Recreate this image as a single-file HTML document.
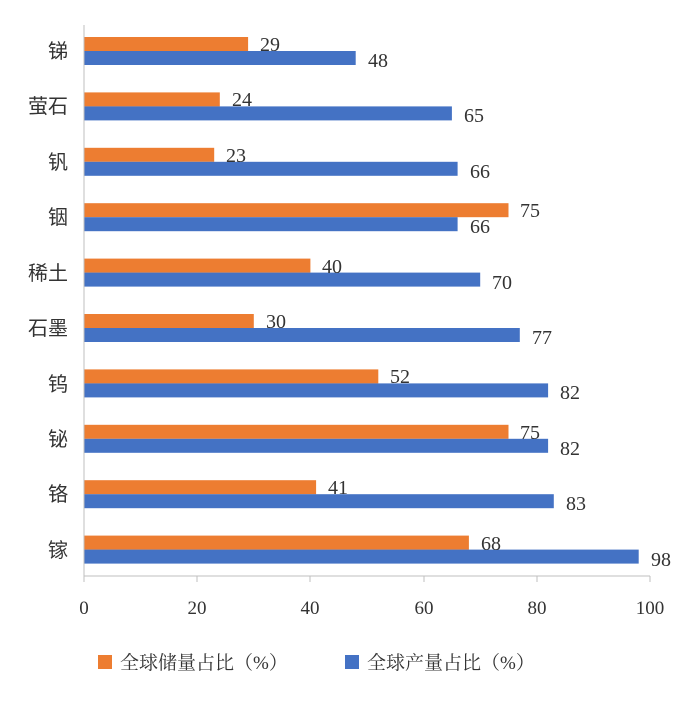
<!DOCTYPE html>
<html><head><meta charset="utf-8"><style>
body{margin:0;background:#fff;}
</style></head><body>
<svg width="679" height="700" xmlns="http://www.w3.org/2000/svg" font-family="'Liberation Serif','Noto Serif CJK SC',serif">
<rect width="679" height="700" fill="#fff"/>
<g>
<rect x="84" y="37" width="164.1" height="14" fill="#ED7D31"/><rect x="84" y="51" width="271.7" height="14" fill="#4472C4"/>
<rect x="84" y="92.4" width="135.8" height="14" fill="#ED7D31"/><rect x="84" y="106.4" width="367.9" height="14" fill="#4472C4"/>
<rect x="84" y="147.8" width="130.2" height="14" fill="#ED7D31"/><rect x="84" y="161.8" width="373.6" height="14" fill="#4472C4"/>
<rect x="84" y="203.2" width="424.5" height="14" fill="#ED7D31"/><rect x="84" y="217.2" width="373.6" height="14" fill="#4472C4"/>
<rect x="84" y="258.6" width="226.4" height="14" fill="#ED7D31"/><rect x="84" y="272.6" width="396.2" height="14" fill="#4472C4"/>
<rect x="84" y="314" width="169.8" height="14" fill="#ED7D31"/><rect x="84" y="328" width="435.8" height="14" fill="#4472C4"/>
<rect x="84" y="369.4" width="294.3" height="14" fill="#ED7D31"/><rect x="84" y="383.4" width="464.1" height="14" fill="#4472C4"/>
<rect x="84" y="424.8" width="424.5" height="14" fill="#ED7D31"/><rect x="84" y="438.8" width="464.1" height="14" fill="#4472C4"/>
<rect x="84" y="480.2" width="232.1" height="14" fill="#ED7D31"/><rect x="84" y="494.2" width="469.8" height="14" fill="#4472C4"/>
<rect x="84" y="535.6" width="384.9" height="14" fill="#ED7D31"/><rect x="84" y="549.6" width="554.7" height="14" fill="#4472C4"/>
</g>
<g font-size="20" fill="#333">
<text x="260" y="51">29</text><text x="368" y="67">48</text>
<text x="232" y="106">24</text><text x="464" y="122">65</text>
<text x="226" y="162">23</text><text x="470" y="178">66</text>
<text x="520" y="217">75</text><text x="470" y="233">66</text>
<text x="322" y="273">40</text><text x="492" y="289">70</text>
<text x="266" y="328">30</text><text x="532" y="344">77</text>
<text x="390" y="383">52</text><text x="560" y="399">82</text>
<text x="520" y="439">75</text><text x="560" y="455">82</text>
<text x="328" y="494">41</text><text x="566" y="510">83</text>
<text x="481" y="550">68</text><text x="651" y="566">98</text>
</g>
<g font-size="20" fill="#333" text-anchor="end" font-family="'Noto Sans CJK SC',sans-serif">
<text x="68" y="58">锑</text>
<text x="68" y="113">萤石</text>
<text x="68" y="169">钒</text>
<text x="68" y="224">铟</text>
<text x="68" y="280">稀土</text>
<text x="68" y="335">石墨</text>
<text x="68" y="391">钨</text>
<text x="68" y="446">铋</text>
<text x="68" y="501">铬</text>
<text x="68" y="557">镓</text>
</g>
<line x1="84" y1="25" x2="84" y2="576" stroke="#bfbfbf" stroke-width="1"/>
<line x1="84" y1="576" x2="650" y2="576" stroke="#bfbfbf" stroke-width="1"/>
<g stroke="#bfbfbf">
<line x1="84" y1="576" x2="84" y2="582"/><line x1="197" y1="576" x2="197" y2="582"/><line x1="310" y1="576" x2="310" y2="582"/><line x1="424" y1="576" x2="424" y2="582"/><line x1="537" y1="576" x2="537" y2="582"/><line x1="650" y1="576" x2="650" y2="582"/>
</g>
<g font-size="19" fill="#333" text-anchor="middle">
<text x="84" y="614">0</text><text x="197" y="614">20</text><text x="310" y="614">40</text><text x="424" y="614">60</text><text x="537" y="614">80</text><text x="650" y="614">100</text>
</g>
<rect x="98" y="655" width="14" height="14" fill="#ED7D31"/>
<text x="120" y="669" font-size="19" fill="#333">全球储量占比（%）</text>
<rect x="345" y="655" width="14" height="14" fill="#4472C4"/>
<text x="367" y="669" font-size="19" fill="#333">全球产量占比（%）</text>
</svg>
</body></html>
